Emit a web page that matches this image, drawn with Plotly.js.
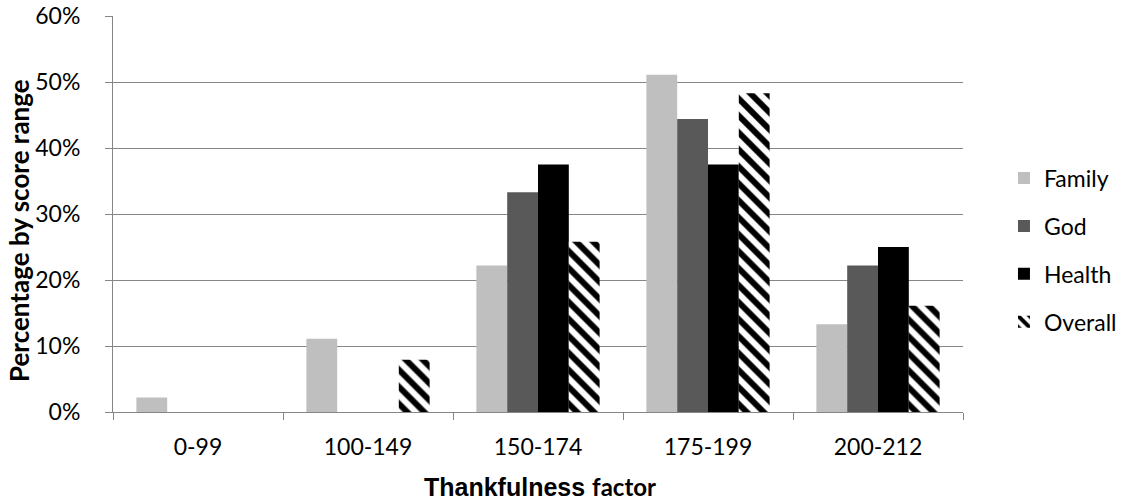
<!DOCTYPE html>
<html>
<head>
<meta charset="utf-8">
<script src="https://cdn.plot.ly/plotly-3.0.1.min.js"></script>
<style>html,body{margin:0;padding:0;background:#fff;}#chart{width:1124px;height:502px;}</style>
</head>
<body>
<div id="chart"></div>
<script>
const categories = ["0-99", "100-149", "150-174", "175-199", "200-212"];
const family  = [0.022, 0.111, 0.222, 0.511, 0.133];
const god     = [null, null, 0.333, 0.444, 0.222];
const health  = [null, null, 0.375, 0.375, 0.25];
const overall = [null, 0.079, 0.258, 0.483, 0.161];
const seriesNames = ["Family", "God", "Health", "Overall"];
const yTickVals = [0, 0.1, 0.2, 0.3, 0.4, 0.5, 0.6];
const yTickText = ["0%", "10%", "20%", "30%", "40%", "50%", "60%"];
const xTitleMain = "Thankfulness";
const xTitleSmall = "factor";
const yTitle = "Percentage by score range";

const FONT = "Lato, 'Open Sans', 'Liberation Sans', sans-serif";

const traces = [
  {name: seriesNames[0], y: family, marker: {color: "#bfbfbf"}},
  {name: seriesNames[1], y: god, marker: {color: "#595959"}},
  {name: seriesNames[2], y: health, marker: {color: "#000000"}},
  {name: seriesNames[3], y: overall, marker: {color: "#ffffff",
     pattern: {shape: "\\", fgcolor: "#000000", bgcolor: "#ffffff", size: 12, solidity: 0.5, fillmode: "replace"}}}
].map((t, i) => Object.assign({type: "bar", x: categories, legendgroup: "g" + i, hoverinfo: "skip"}, t));

const layout = {
  width: 1124, height: 502,
  margin: {l: 113, r: 161, t: 16, b: 90, autoexpand: false},
  paper_bgcolor: "#ffffff", plot_bgcolor: "#ffffff",
  barmode: "group", bargap: 0.275, bargroupgap: 0,
  font: {family: FONT, size: 23, color: "#000"},
  showlegend: true,
  legend: {x: 1.0482, xanchor: "left", y: 0.409, yanchor: "middle",
    traceorder: "grouped", tracegroupgap: 15, font: {size: 23, family: FONT}},
  xaxis: {
    type: "category", showgrid: false, zeroline: false, automargin: false,
    showline: true, linecolor: "#868686", linewidth: 1,
    ticks: "outside", tickson: "boundaries", ticklen: 7, tickcolor: "#868686",
    ticklabelstandoff: 14,
    tickfont: {size: 23, family: FONT}
  },
  yaxis: {
    range: [0, 0.6], tickvals: yTickVals, ticktext: yTickText, automargin: false,
    showgrid: true, gridcolor: "#868686", gridwidth: 1, zeroline: false,
    showline: true, linecolor: "#868686", linewidth: 1,
    ticks: "outside", ticklen: 7, tickcolor: "#868686",
    ticklabelstandoff: 20,
    tickfont: {size: 23, family: FONT}
  },
  annotations: [
    {xref: "paper", yref: "paper", x: (19 - 113) / 850, y: (412 - 231) / 396,
     xanchor: "center", yanchor: "middle", textangle: -90, showarrow: false,
     text: "<b>" + yTitle + "</b>", font: {size: 26, family: FONT, color: "#000"}},
    {xref: "paper", yref: "paper", x: (540 - 113) / 850, y: (412 - 486) / 396,
     xanchor: "center", yanchor: "middle", showarrow: false,
     text: "<b>" + xTitleMain + " <span style=\"font-family:Lato;font-size:24px\">" + xTitleSmall + "</span></b>",
     font: {size: 25, family: "'Liberation Sans', Arial, sans-serif", color: "#000"}}
  ]
};

Plotly.newPlot("chart", traces, layout, {displayModeBar: false, staticPlot: true});
</script>
</body>
</html>
